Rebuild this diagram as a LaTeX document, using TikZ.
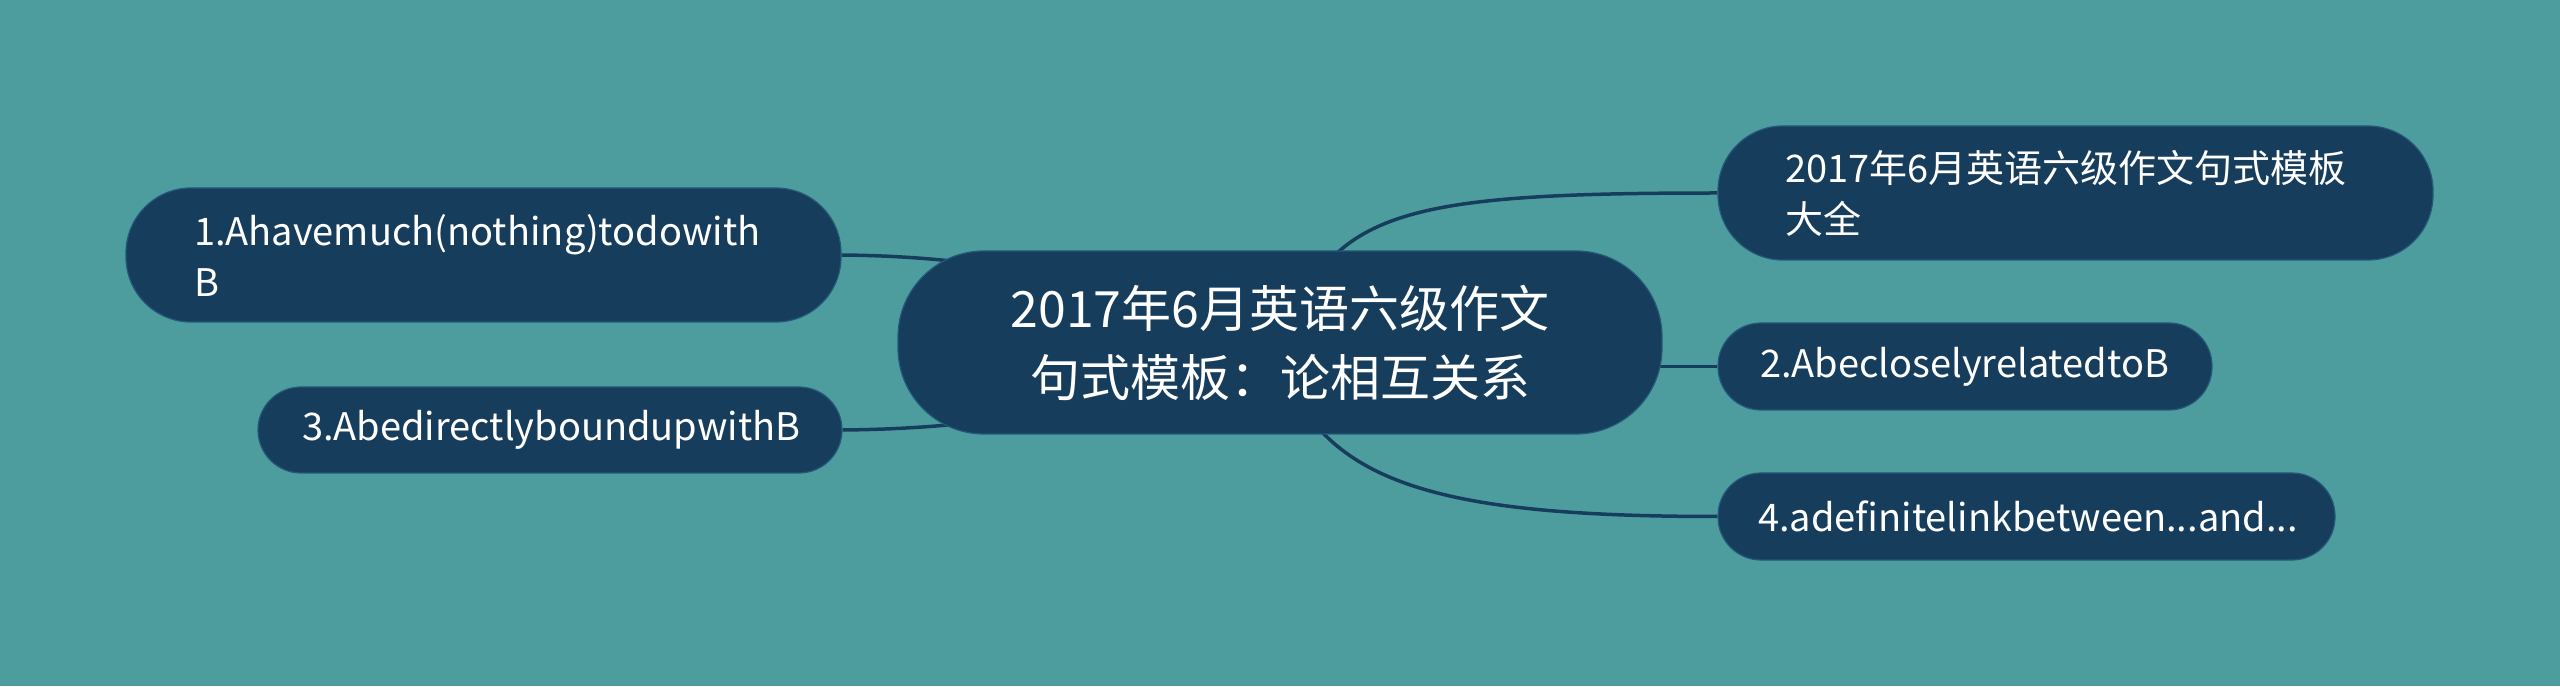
\documentclass[tikz,border=0pt]{standalone}
\usepackage{fontspec}
\newfontfamily\cjk{Noto Sans CJK SC}
\usetikzlibrary{backgrounds}
\definecolor{bg}{HTML}{4E9D9E}
\definecolor{navy}{HTML}{173D5C}
\definecolor{edge}{HTML}{173D5C}
\definecolor{rim}{HTML}{24597A}
\begin{document}
\begin{tikzpicture}[x=1pt,y=1pt,
  box/.style={fill=navy,draw=rim,line width=1.2pt,text=white,inner ysep=0pt},
  mainbox/.style={box,rounded corners=86pt,minimum width=764pt,minimum height=183pt,align=center,font=\cjk\fontsize{50}{69}\selectfont},
  subbox/.style={box,align=left,font=\cjk\fontsize{38}{51}\selectfont},
  link/.style={draw=edge,line width=3.5pt}]
\useasboundingbox (0,0) rectangle (2560,686);
\node[mainbox] (c) at (1280,343.5) {2017年6月英语六级作文\\句式模板：论相互关系};
\node[subbox,rounded corners=65pt,minimum height=134pt,inner xsep=67pt,text width=581pt] (a) at (2075.5,493) {2017年6月英语六级作文句式模板\\大全};
\node[subbox,rounded corners=43pt,minimum height=87pt,inner xsep=42pt,text width=410pt] (b) at (1965,319.5) {2.AbecloselyrelatedtoB};
\node[subbox,rounded corners=43pt,minimum height=87pt,inner xsep=40pt,text width=537pt] (d4) at (2026.5,169.5) {4.adefinitelinkbetween...and...};
\node[subbox,rounded corners=65pt,minimum height=134pt,inner xsep=68pt,text width=579pt] (d1) at (483.5,431) {1.Ahavemuch(nothing)todowith\\B};
\node[subbox,rounded corners=43pt,minimum height=86pt,inner xsep=44pt,text width=496pt] (e3) at (550,256) {3.AbedirectlyboundupwithB};
\coordinate (ct) at (1310,400);
\coordinate (cb) at (1290,300);
\coordinate (cr) at (1600,319.5);
\begin{scope}[on background layer]
\fill[bg] (0,0) rectangle (2560,686);
\draw[link] (ct) .. controls (1360,480) and (1450,493) .. (a.west);
\draw[link] (cb) .. controls (1340,200) and (1450,169.5) .. (d4.west);
\draw[link] (cr) -- (b.west);
\draw[link] (d1.east) .. controls (1050,429) and (1150,380) .. (c.center);
\draw[link] (e3.east) .. controls (1050,258) and (1150,300) .. (c.center);
\end{scope}
\end{tikzpicture}
\end{document}
